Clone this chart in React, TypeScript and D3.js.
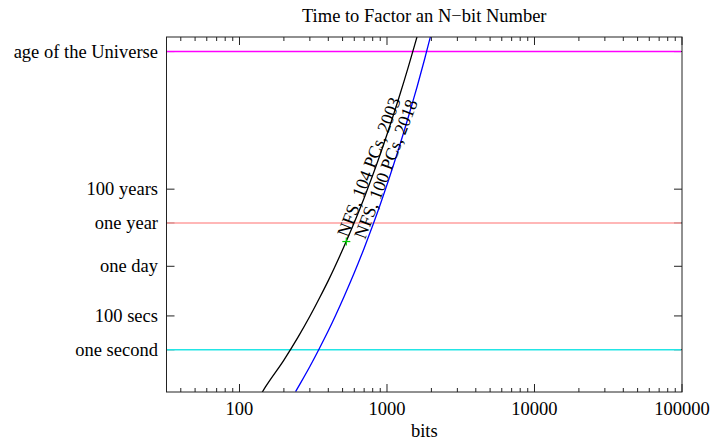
import React from 'react'
import * as d3 from 'd3'

// log10(seconds), at a given key size in bits
const bits2003 = [140, 150, 200, 250, 300, 350, 400, 512, 600, 700, 800, 900, 1024, 1200, 1400, 1500, 1600, 1700]
const logSecs2003 = [-2.63, -2.2, -0.61, 0.76, 1.98, 3.09, 4.09, 6.12, 7.52, 8.98, 10.32, 11.56, 13.0, 14.86, 16.78, 17.68, 18.53, 19.37]
const bits2018 = [240, 250, 300, 350, 400, 512, 600, 700, 800, 900, 1024, 1200, 1400, 1500, 1600, 1800, 2000, 2048]
const logSecs2018 = [-2.48, -2.21, -0.99, 0.12, 1.12, 3.15, 4.55, 6.01, 7.35, 8.59, 10.03, 11.89, 13.81, 14.71, 15.56, 17.2, 18.74, 19.08]

const markerBits = 530
const markerLogSecs = 6.4

// y tick labels (value in seconds)
const yTickNames = ['one second', '100 secs', 'one day', 'one year', '100 years', 'age of the Universe']
const yTickSecs = [1, 100, 86400, 3.156e7, 3.156e9, 4.35e17]

// horizontal reference lines
const refSecs = [4.35e17, 3.156e7, 1]
const refColors = ['#ff00ff', '#ff9f9f', '#22e5e5']

const xTickValues = [100, 1000, 10000, 100000]

const W = 717
const H = 441
const left = 166.5
const right = 682
const top = 37
const bottom = 392

const font = '"Liberation Serif", "Times New Roman", serif'

export default function App() {
  const x = d3.scaleLog().domain([32, 100000]).range([left, right])
  const y = d3.scaleLog().domain([Math.pow(10, -2.5), Math.pow(10, 18.5)]).range([bottom, top])

  const line = d3.line<[number, number]>()
    .x(d => x(d[0]))
    .y(d => y(Math.pow(10, d[1])))
    .curve(d3.curveMonotoneX)

  const s2003 = bits2003.map((b, i) => [b, logSecs2003[i]] as [number, number])
  const s2018 = bits2018.map((b, i) => [b, logSecs2018[i]] as [number, number])

  // minor ticks 40..90, 200..900, etc.
  const minor: number[] = []
  for (let p = 1; p <= 4; p++) {
    for (let m = 2; m <= 9; m++) {
      const v = m * Math.pow(10, p)
      if (v > 32 && v < 100000) minor.push(v)
    }
  }

  const mx = x(markerBits)
  const my = y(Math.pow(10, markerLogSecs))
  const angle = -69

  return (
    <svg width={W} height={H} style={{ position: 'absolute', left: 0, top: 0, background: '#fff' }}
      fontFamily={font}>
      <defs>
        <clipPath id="plot">
          <rect x={left} y={top} width={right - left} height={bottom - top} />
        </clipPath>
      </defs>

      <text x={(left + right) / 2} y={22} textAnchor="middle" fontSize={18.5}>Time to Factor an N−bit Number</text>

      {/* x ticks, top and bottom */}
      {minor.map(v => (
        <g key={'m' + v} stroke="#222">
          <line x1={x(v)} x2={x(v)} y1={bottom} y2={bottom - 4} />
          <line x1={x(v)} x2={x(v)} y1={top} y2={top + 4} />
        </g>
      ))}
      {xTickValues.map(v => (
        <g key={'M' + v}>
          <line x1={x(v)} x2={x(v)} y1={bottom} y2={bottom - 8} stroke="#222" />
          <line x1={x(v)} x2={x(v)} y1={top} y2={top + 8} stroke="#222" />
          <text x={x(v)} y={415} textAnchor="middle" fontSize={18.5}>{v}</text>
        </g>
      ))}
      <text x={(left + right) / 2} y={437} textAnchor="middle" fontSize={18.5}>bits</text>

      {/* y ticks, left and right */}
      {yTickSecs.map((v, i) => (
        <g key={'y' + i}>
          <line x1={left} x2={left + 8} y1={y(v)} y2={y(v)} stroke="#222" />
          <line x1={right} x2={right - 8} y1={y(v)} y2={y(v)} stroke="#222" />
          <text x={158} y={y(v)} dy="0.33em" textAnchor="end" fontSize={18.5}>{yTickNames[i]}</text>
        </g>
      ))}

      {refSecs.map((v, i) => (
        <line key={'r' + i} x1={left} x2={right - 1} y1={y(v)} y2={y(v)} stroke={refColors[i]} strokeWidth={1.5} />
      ))}

      <g clipPath="url(#plot)" fill="none">
        <path d={line(s2003) || ''} stroke="#000" strokeWidth={1.3} />
        <path d={line(s2018) || ''} stroke="#0000ff" strokeWidth={1.3} />
      </g>

      <g stroke="#00cc00" strokeWidth={1.2}>
        <line x1={mx - 4} x2={mx + 4} y1={my} y2={my} />
        <line x1={mx} x2={mx} y1={my - 4} y2={my + 4} />
      </g>

      <text transform={`translate(348,238) rotate(${angle})`} fontSize={18}>NFS, 104 PCs, 2003</text>
      <text transform={`translate(365,240) rotate(${angle})`} fontSize={18}>NFS, 100 PCs, 2018</text>

      <rect x={left} y={top} width={right - left} height={bottom - top} fill="none" stroke="#222" strokeWidth={1} />
    </svg>
  )
}
